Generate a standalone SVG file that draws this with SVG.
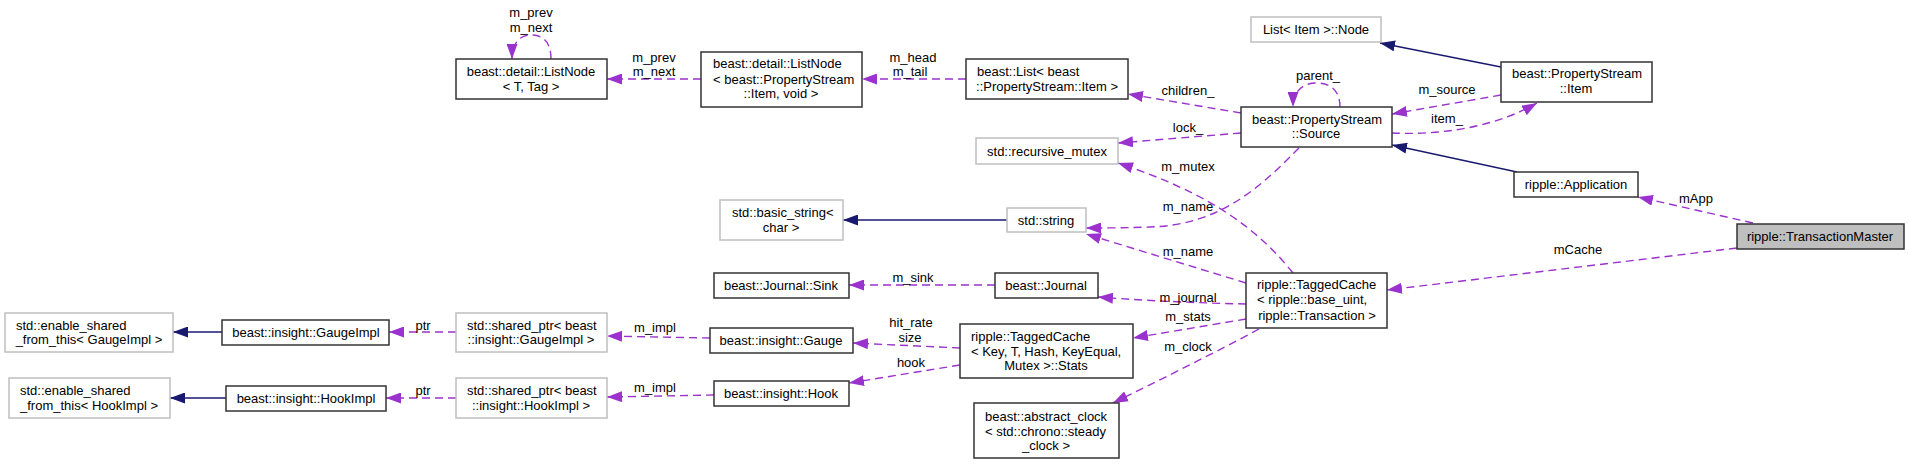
<svg xmlns="http://www.w3.org/2000/svg" width="1909" height="465" viewBox="0 0 1909 465">
<defs>
<style>
text{font-family:"Liberation Sans",Arial,sans-serif;font-size:13px;fill:#000}
.m{text-anchor:middle}
.s{text-anchor:start}
.b{fill:#fff;stroke:#333;stroke-width:1.5}
.g{fill:#fff;stroke:#bfbfbf;stroke-width:1.5}
.p{fill:none;stroke:#9a32cd;stroke-width:1.4;stroke-dasharray:8,5}
.n{fill:none;stroke:#191970;stroke-width:1.4}
</style>
<marker id="ap" markerUnits="userSpaceOnUse" markerWidth="15" markerHeight="11" refX="15" refY="5.5" orient="auto"><path d="M0,0 L15,5.5 L0,11 z" fill="#9a32cd"/></marker>
<marker id="an" markerUnits="userSpaceOnUse" markerWidth="15" markerHeight="11" refX="15" refY="5.5" orient="auto"><path d="M0,0 L15,5.5 L0,11 z" fill="#191970"/></marker>
</defs>
<rect width="1909" height="465" fill="#fff"/>
<g id="edges">
<path class="p" marker-end="url(#ap)" d="M551,59 C551,42 543,35 531,35 C519,35 512,44 512,59"/>
<text class="m" x="531" y="16.5">m_prev</text><text class="m" x="531" y="31.5">m_next</text>
<path class="p" marker-end="url(#ap)" d="M701,79 L607,79"/>
<text class="m" x="654" y="61.5">m_prev</text><text class="m" x="654" y="75.5">m_next</text>
<path class="p" marker-end="url(#ap)" d="M966,79 L862,79"/>
<text class="m" x="913" y="61.5">m_head</text><text class="m" x="910" y="75.5">m_tail</text>
<path class="p" marker-end="url(#ap)" d="M1241,113 L1128,94"/>
<text class="m" x="1188" y="94.5">children_</text>
<path class="p" marker-end="url(#ap)" d="M1241,133 L1118,143"/>
<text class="m" x="1188" y="131.5">lock_</text>
<path class="p" marker-end="url(#ap)" d="M1293,273 C1260,232 1215,195 1118,163"/>
<text class="m" x="1188" y="170.5">m_mutex</text>
<path class="p" marker-end="url(#ap)" d="M1299,148 C1262,185 1222,225 1150,227 C1120,228 1100,228 1086,228"/>
<text class="m" x="1188" y="210.5">m_name</text>
<path class="p" marker-end="url(#ap)" d="M1246,283 L1086,234"/>
<text class="m" x="1188" y="255.5">m_name</text>
<path class="p" marker-end="url(#ap)" d="M1340,107 C1340,90 1330,83 1316,83 C1302,83 1293,92 1293,107"/>
<text class="m" x="1318" y="79.5">parent_</text>
<path class="n" marker-end="url(#an)" d="M1501,67 L1380,43"/>
<path class="p" marker-end="url(#ap)" d="M1501,95 L1392,114"/>
<text class="m" x="1447" y="93.5">m_source</text>
<path class="p" marker-end="url(#ap)" d="M1392,133 C1432,135 1490,130 1537,103"/>
<text class="m" x="1447" y="122.5">item_</text>
<path class="n" marker-end="url(#an)" d="M1517,172 L1392,145"/>
<path class="p" marker-end="url(#ap)" d="M1753,223 L1638,197"/>
<text class="m" x="1696" y="202.5">mApp</text>
<path class="p" marker-end="url(#ap)" d="M1737,248 L1387,290"/>
<text class="m" x="1578" y="253.5">mCache</text>
<path class="p" marker-end="url(#ap)" d="M1246,304 C1200,303 1150,301 1098,297"/>
<text class="m" x="1188" y="301.5">m_journal</text>
<path class="p" marker-end="url(#ap)" d="M995,285 L849,285"/>
<text class="m" x="913" y="282">m_sink</text>
<path class="p" marker-end="url(#ap)" d="M1246,319 L1133,338"/>
<text class="m" x="1188" y="320.5">m_stats</text>
<path class="p" marker-end="url(#ap)" d="M1259,329 C1220,350 1160,380 1113,403"/>
<text class="m" x="1188" y="350.5">m_clock</text>
<path class="p" marker-end="url(#ap)" d="M960,348 L853,343"/>
<text class="m" x="911" y="326.5">hit_rate</text><text class="m" x="910" y="341.5">size</text>
<path class="p" marker-end="url(#ap)" d="M960,365 L849,383"/>
<text class="m" x="911" y="366.5">hook</text>
<path class="p" marker-end="url(#ap)" d="M710,338 L607,336"/>
<text class="m" x="655" y="331.5">m_impl</text>
<path class="p" marker-end="url(#ap)" d="M714,395 L607,397"/>
<text class="m" x="655" y="391.5">m_impl</text>
<path class="p" marker-end="url(#ap)" d="M456,332 L389,332"/>
<text class="m" x="423" y="329.5">ptr</text>
<path class="p" marker-end="url(#ap)" d="M456,398 L386,398"/>
<text class="m" x="423" y="394.5">ptr</text>
<path class="n" marker-end="url(#an)" d="M222,332 L173,332"/>
<path class="n" marker-end="url(#an)" d="M226,398 L170,398"/>
<path class="n" marker-end="url(#an)" d="M1007,220 L843,220"/>
</g>
<g id="n_tm"><rect x="1737" y="224" width="167" height="25" fill="#bfbfbf" stroke="#333" stroke-width="1.5"/><text class="m" x="1820" y="240.5">ripple::TransactionMaster</text></g>
<g id="n_app"><rect class="b" x="1514" y="172" width="124" height="25"/><text class="m" x="1576" y="188.5">ripple::Application</text></g>
<g id="n_source"><rect class="b" x="1241" y="107" width="151" height="40"/><text class="s" x="1252" y="123.5">beast::PropertyStream</text><text class="m" x="1316" y="137.5">::Source</text></g>
<g id="n_item"><rect class="b" x="1501" y="62" width="151" height="40"/><text class="s" x="1512" y="77.5">beast::PropertyStream</text><text class="m" x="1576" y="92.5">::Item</text></g>
<g id="n_node"><rect class="g" x="1251" y="17" width="130" height="25"/><text class="m" x="1316" y="33.5">List&lt; Item &gt;::Node</text></g>
<g id="n_list"><rect class="b" x="966" y="59" width="162" height="40"/><text class="s" x="977" y="75.5">beast::List&lt; beast</text><text class="m" x="1047" y="90.5">::PropertyStream::Item &gt;</text></g>
<g id="n_ln_item"><rect class="b" x="701" y="52" width="161" height="55"/><text class="s" x="713" y="67.5">beast::detail::ListNode</text><text class="s" x="713" y="83.5">&lt; beast::PropertyStream</text><text class="m" x="781" y="97.5">::Item, void &gt;</text></g>
<g id="n_ln_t"><rect class="b" x="456" y="59" width="151" height="40"/><text class="m" x="531" y="75.5">beast::detail::ListNode</text><text class="m" x="531" y="90.5">&lt; T, Tag &gt;</text></g>
<g id="n_rmutex"><rect class="g" x="976" y="138" width="142" height="26"/><text class="m" x="1047" y="155.5">std::recursive_mutex</text></g>
<g id="n_bstr"><rect class="g" x="720" y="200" width="123" height="40"/><text class="s" x="732" y="216.5">std::basic_string&lt;</text><text class="m" x="781" y="231.5">char &gt;</text></g>
<g id="n_str"><rect class="g" x="1007" y="208" width="79" height="24"/><text class="m" x="1046" y="224.5">std::string</text></g>
<g id="n_tc"><rect class="b" x="1246" y="273" width="141" height="55"/><text class="s" x="1257" y="288.5">ripple::TaggedCache</text><text class="s" x="1257" y="303.5">&lt; ripple::base_uint,</text><text class="m" x="1317" y="319.5">ripple::Transaction &gt;</text></g>
<g id="n_sink"><rect class="b" x="714" y="273" width="135" height="25"/><text class="m" x="781" y="289.5">beast::Journal::Sink</text></g>
<g id="n_journal"><rect class="b" x="995" y="273" width="103" height="25"/><text class="m" x="1046" y="289.5">beast::Journal</text></g>
<g id="n_stats"><rect class="b" x="960" y="324" width="173" height="54"/><text class="s" x="971" y="341">ripple::TaggedCache</text><text class="s" x="971" y="355.5">&lt; Key, T, Hash, KeyEqual,</text><text class="m" x="1046" y="369.5">Mutex &gt;::Stats</text></g>
<g id="n_clock"><rect class="b" x="974" y="403" width="145" height="55"/><text class="s" x="985" y="420.5">beast::abstract_clock</text><text class="s" x="985" y="435.5">&lt; std::chrono::steady</text><text class="m" x="1046" y="449.5">_clock &gt;</text></g>
<g id="n_gauge"><rect class="b" x="710" y="328" width="143" height="25"/><text class="m" x="781" y="344.5">beast::insight::Gauge</text></g>
<g id="n_hook"><rect class="b" x="714" y="381" width="135" height="25"/><text class="m" x="781" y="397.5">beast::insight::Hook</text></g>
<g id="n_sp_g"><rect class="g" x="456" y="313" width="151" height="39"/><text class="s" x="467" y="329.5">std::shared_ptr&lt; beast</text><text class="m" x="531" y="343.5">::insight::GaugeImpl &gt;</text></g>
<g id="n_sp_h"><rect class="g" x="456" y="378" width="151" height="40"/><text class="s" x="467" y="394.5">std::shared_ptr&lt; beast</text><text class="m" x="531" y="409.5">::insight::HookImpl &gt;</text></g>
<g id="n_gimpl"><rect class="b" x="222" y="320" width="167" height="25"/><text class="m" x="306" y="336.5">beast::insight::GaugeImpl</text></g>
<g id="n_himpl"><rect class="b" x="226" y="386" width="160" height="25"/><text class="m" x="306" y="402.5">beast::insight::HookImpl</text></g>
<g id="n_esft_g"><rect class="g" x="5" y="313" width="168" height="39"/><text class="s" x="16" y="329.5">std::enable_shared</text><text class="m" x="89" y="343.5">_from_this&lt; GaugeImpl &gt;</text></g>
<g id="n_esft_h"><rect class="g" x="9" y="378" width="161" height="40"/><text class="s" x="20" y="394.5">std::enable_shared</text><text class="m" x="89" y="409.5">_from_this&lt; HookImpl &gt;</text></g>
</svg>
